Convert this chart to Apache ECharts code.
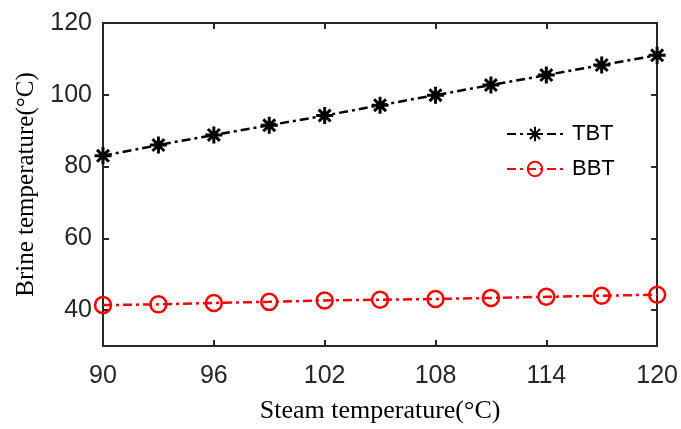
<!DOCTYPE html>
<html><head><meta charset="utf-8">
<script src="https://cdn.jsdelivr.net/npm/echarts@6/dist/echarts.min.js"></script>
<style>html,body{margin:0;padding:0;background:#fff}#c{width:681px;height:429px}</style>
</head><body><div id="c"></div>
<script>
const steamTemp = [90, 93, 96, 99, 102, 105, 108, 111, 114, 117, 120];
const tbt = [83.0, 86.0, 88.8, 91.5, 94.2, 97.1, 99.9, 102.7, 105.5, 108.3, 111.0];
const bbt = [41.4, 41.6, 42.0, 42.3, 42.7, 42.9, 43.1, 43.4, 43.7, 44.0, 44.3];
const xTicks = [90, 96, 102, 108, 114, 120];
const yTicks = [40, 60, 80, 100, 120];

const axisColor = '#262626';
const star = 'path://M0,-10L0,10M-10,0L10,0M-7,-7L7,7M-7,7L7,-7';
const dashDot = [9, 4, 3, 4];
const chart = echarts.init(document.getElementById('c'));
const baseX = {
  type: 'value', min: 90, max: 120, interval: 6,
  axisLine: {show: true, lineStyle: {color: axisColor, width: 2}},
  axisTick: {show: true, inside: true, length: 6, lineStyle: {color: axisColor, width: 2}, customValues: xTicks},
  splitLine: {show: false}
};
const baseY = {
  type: 'value', min: 30, max: 120, interval: 10,
  axisLine: {show: true, lineStyle: {color: axisColor, width: 2}},
  axisTick: {show: true, inside: true, length: 6, lineStyle: {color: axisColor, width: 2}, customValues: yTicks},
  splitLine: {show: false}
};
chart.setOption({
  animation: false,
  backgroundColor: '#fff',
  grid: {left: 103, top: 23, right: 22, bottom: 80, containLabel: false},
  legend: {
    orient: 'vertical', left: 506, top: 123, itemGap: 13, padding: 0,
    itemWidth: 56, itemHeight: 18,
    textStyle: {fontFamily: 'Liberation Sans', fontSize: 22, lineHeight: 18, color: '#000', padding: [0,0,0,4]},
    data: ['TBT', 'BBT']
  },
  xAxis: [
    Object.assign({}, baseX, {
      position: 'bottom', name: 'Steam temperature(°C)', nameLocation: 'middle', nameGap: 52,
      nameTextStyle: {fontFamily: 'Liberation Serif', fontSize: 26, color: '#000'},
      axisLabel: {fontFamily: 'Liberation Sans', fontSize: 25, color: axisColor, margin: 18, customValues: xTicks}
    }),
    Object.assign({}, baseX, {position: 'top', axisLabel: {show: false}})
  ],
  yAxis: [
    Object.assign({}, baseY, {
      position: 'left', name: 'Brine temperature(°C)', nameLocation: 'middle', nameGap: 64,
      nameTextStyle: {fontFamily: 'Liberation Serif', fontSize: 25, color: '#000'},
      axisLabel: {fontFamily: 'Liberation Sans', fontSize: 25, color: axisColor, margin: 11, customValues: yTicks}
    }),
    Object.assign({}, baseY, {position: 'right', axisLabel: {show: false}})
  ],
  series: [
    {
      name: 'TBT', type: 'line', data: steamTemp.map((x, i) => [x, tbt[i]]),
      symbol: star, symbolSize: 17, symbolKeepAspect: true,
      itemStyle: {color: '#000', borderColor: '#000', borderWidth: 3},
      lineStyle: {color: '#000', width: 2.5, type: dashDot}
    },
    {
      name: 'BBT', type: 'line', data: steamTemp.map((x, i) => [x, bbt[i]]),
      symbol: 'circle', symbolSize: 16,
      itemStyle: {color: 'rgba(0,0,0,0)', borderColor: '#ff0000', borderWidth: 2.5},
      lineStyle: {color: '#ff0000', width: 2.5, type: dashDot}
    }
  ]
});
</script></body></html>
